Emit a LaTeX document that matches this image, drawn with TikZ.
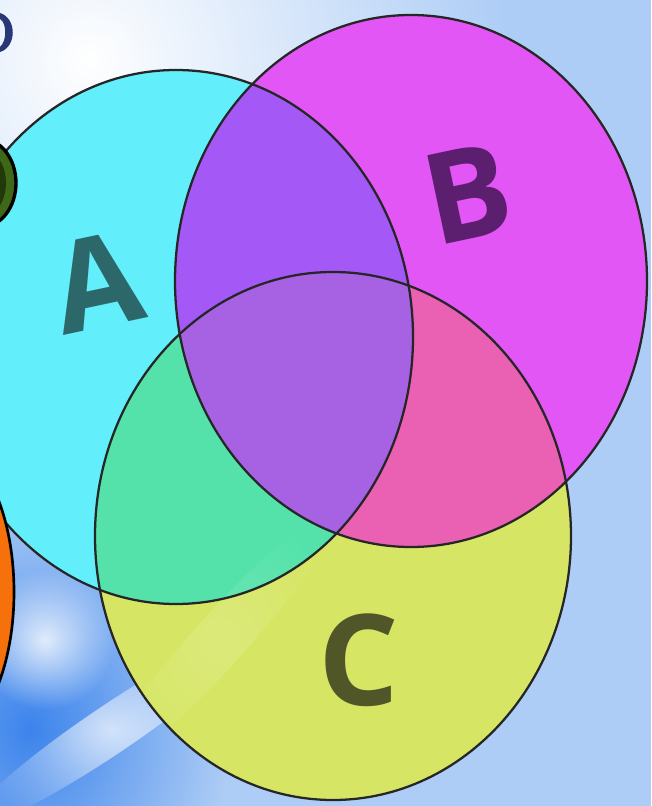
\documentclass[tikz,border=0pt]{standalone}
\usepackage{fontspec}
\newfontfamily\lettfont{Open Sans}
\usetikzlibrary{fadings}
\tikzfading[name=glow, inner color=transparent!0, outer color=transparent!100]
\definecolor{bgsky}{RGB}{174,205,246}
\definecolor{bgdeep}{RGB}{60,132,236}
\definecolor{setA}{RGB}{98,238,250}
\definecolor{setB}{RGB}{226,86,246}
\definecolor{setC}{RGB}{214,230,100}
\definecolor{setAB}{RGB}{164,88,246}
\definecolor{setAC}{RGB}{84,226,170}
\definecolor{setBC}{RGB}{234,96,178}
\definecolor{setABC}{RGB}{166,98,226}
\definecolor{inkA}{RGB}{44,104,106}
\definecolor{inkB}{RGB}{92,30,110}
\definecolor{inkC}{RGB}{80,86,40}
\definecolor{navy}{RGB}{40,56,118}
\definecolor{leaf}{RGB}{62,104,22}
\definecolor{peel}{RGB}{246,112,12}
% the three sets
\def\ellA{(176,337) ellipse [x radius=237, y radius=267]}
\def\ellB{(411,281) ellipse [x radius=236, y radius=266]}
\def\ellC{(333,536) ellipse [x radius=238, y radius=264]}

\begin{document}
\begin{tikzpicture}[x=0.75pt,y=-0.75pt,
  rim/.style={line width=1.7pt,black!85},
  letter/.style={font=\lettfont\bfseries\fontsize{95}{95}\selectfont,inner sep=0pt}]
  \useasboundingbox (0,0) rectangle (651,806);
  \clip (0,0) rectangle (651,806);
  % backdrop
  \fill[bgsky] (0,0) rectangle (651,806);
  \fill[white,path fading=glow] (90,60) circle [radius=420];
  \fill[bgdeep,path fading=glow] (30,730) ellipse [x radius=200, y radius=240];
  \fill[white,opacity=0.8,path fading=glow] (45,640) circle [radius=70];
  \fill[white,opacity=0.7,path fading=glow,rotate around={34:(110,730)}]
     (110,730) ellipse [x radius=170, y radius=24];
  \fill[navy] (0,13) .. controls (17,18) and (17,47) .. (0,52)
     -- (0,47) .. controls (7,41) and (7,23) .. (0,19) -- cycle;
  % single sets
  \fill[setA] \ellA;
  \fill[setB] \ellB;
  \fill[setC] \ellC;
  % overlaps
  \begin{scope} \clip \ellA; \fill[setAB] \ellB; \end{scope}
  \begin{scope} \clip \ellA; \fill[setAC] \ellC; \end{scope}
  \begin{scope} \clip \ellB; \fill[setBC] \ellC; \end{scope}
  \begin{scope} \clip \ellA; \clip \ellB; \fill[setABC] \ellC; \end{scope}
  % gloss seen through C
  \begin{scope}
    \clip \ellC;
    \fill[white,opacity=0.15,path fading=glow,rotate around={48:(220,640)}]
       (220,640) ellipse [x radius=170, y radius=26];
  \end{scope}
  \draw[rim] \ellA;
  \draw[rim] \ellB;
  \draw[rim] \ellC;
  % bits at the left edge, over A
  \filldraw[fill=leaf,draw=black,line width=2.5pt] (-18,183) ellipse [x radius=34, y radius=44];
  \fill[leaf!55!black] (-18,183) ellipse [x radius=24, y radius=34];
  \filldraw[fill=peel,draw=black,line width=2pt] (-60,592) ellipse [x radius=74, y radius=150];
  % labels
  \node[letter,text=inkA,rotate=12] (labA) at (97,282) {A};
  \node[letter,text=inkB,rotate=12] (labB) at (468,193) {B};
  \node[letter,text=inkC] (labC) at (359,660) {C};
\end{tikzpicture}
\end{document}
